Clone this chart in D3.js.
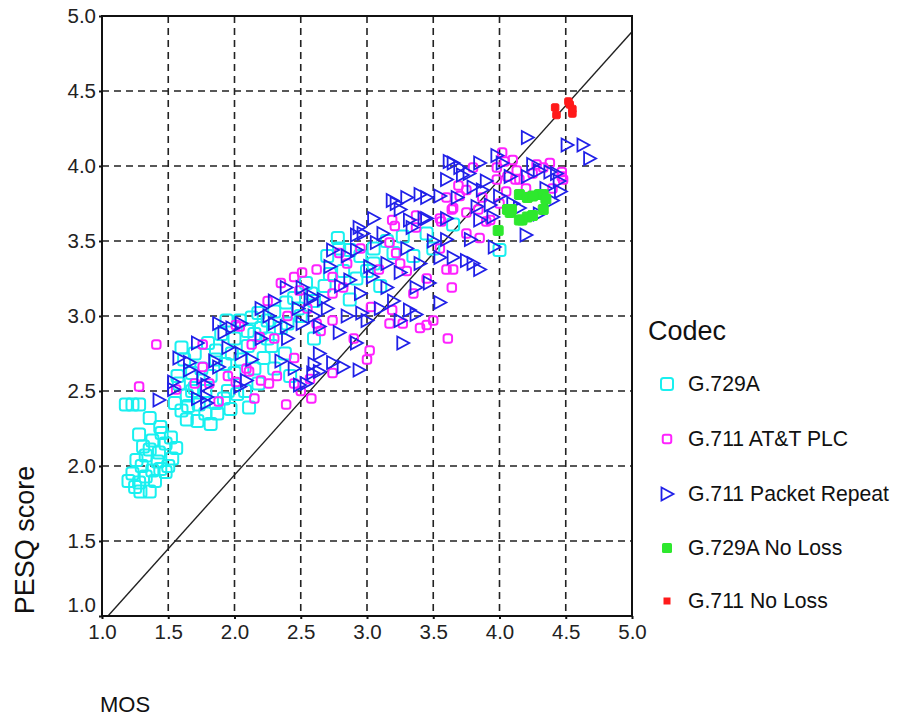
<!DOCTYPE html>
<html>
<head>
<meta charset="utf-8">
<script src="https://cdn.jsdelivr.net/npm/d3@7"></script>
<style>
  body { margin: 0; background: #fff; }
  svg { font-family: "Liberation Sans", Arial, sans-serif; }
</style>
</head>
<body>
<svg width="899" height="716"></svg>
<script>
// ticks on both axes
var ticks = [1.0, 1.5, 2.0, 2.5, 3.0, 3.5, 4.0, 4.5, 5.0];

// reference line (MOS, PESQ) end points
var refLine = [[1.045, 1.0], [5.0, 4.895]];

var codecs = ["G.729A", "G.711 AT&T PLC", "G.711 Packet Repeat", "G.729A No Loss", "G.711 No Loss"];

// [MOS, PESQ]
var g729a = [
  [1.18,2.41],[1.23,2.41],[1.28,2.41],[1.36,2.32],[1.44,2.26],[1.52,2.19],[1.28,2.21],[1.38,2.17],
  [1.31,2.13],[1.45,2.22],[1.48,2.15],[1.56,2.12],[1.43,2.09],[1.36,2.11],[1.26,2.04],[1.42,2.03],
  [1.53,2.05],[1.30,2.0],[1.38,1.97],[1.23,1.95],[1.48,1.96],[1.33,1.93],[1.2,1.9],[1.28,1.89],
  [1.29,1.83],[1.36,1.83],[1.25,1.86],[1.33,2.07],[1.4,1.9],[1.5,2.0],[1.44,1.98],
  [1.55,2.42],[1.6,2.37],[1.64,2.31],[1.72,2.3],[1.82,2.28],[1.87,2.35],[1.73,2.41],[1.86,2.42],
  [1.97,2.38],[2.11,2.39],[1.58,2.55],[1.64,2.47],[1.7,2.52],[1.78,2.5],[1.62,2.71],[1.6,2.79],
  [1.68,2.62],[1.75,2.65],[1.82,2.6],[1.86,2.77],[1.86,2.71],[1.98,2.75],[1.93,2.68],[2.0,2.62],
  [2.05,2.71],[2.1,2.8],[2.15,2.88],[2.2,2.92],[1.94,2.97],[2.04,2.97],[2.13,2.99],[2.25,2.97],
  [2.3,3.03],[2.39,3.09],[2.45,3.12],[2.54,3.22],[2.35,2.92],[2.28,2.8],[2.22,2.72],[2.3,2.65],
  [2.42,2.6],[2.0,2.85],[1.9,2.88],[2.08,2.5],[2.18,2.55],[1.95,2.5],[2.5,3.0],[2.6,3.1],
  [2.68,3.2],[2.72,3.28],
  [1.65,2.4],[1.78,2.35],[1.92,2.45],[2.02,2.48],[1.7,2.75],[1.8,2.82],[2.1,2.9],[2.25,2.85],
  [2.4,2.95],[2.18,3.02],[2.48,3.05],[2.58,3.15],[2.82,3.3],[2.7,3.4],[3.05,3.35],[3.2,3.42],
  [2.6,2.85],[2.38,2.75],[2.15,2.65],[1.68,2.5],[1.57,2.6],
  [2.78,3.52],[2.79,3.45],[2.87,3.44],[2.95,3.4],[3.05,3.45],[3.15,3.5],[3.27,3.53],[3.0,3.3],
  [2.87,3.11],[2.92,3.25],[3.1,3.2],[3.35,3.4],[3.5,3.45],[3.65,3.61],[4.0,3.44],[3.45,3.55]
];

var att = [
  [1.28,2.53],[1.41,2.81],[1.56,2.51],[1.76,2.81],[1.76,2.66],[1.81,2.55],[1.88,2.43],[2.01,2.56],
  [2.04,2.93],[2.01,2.94],[2.09,2.65],[2.13,2.81],[2.19,2.86],[2.11,2.63],[2.2,2.57],[2.26,2.55],
  [2.32,2.6],[2.39,2.41],[2.45,2.55],[2.5,2.5],[2.57,2.58],[2.62,2.95],[2.74,2.97],[2.74,2.62],
  [2.45,3.26],[2.51,3.29],[2.62,3.31],[2.49,3.17],[2.74,3.15],[2.74,3.26],[2.82,3.19],[2.79,3.42],
  [3.0,2.71],[3.02,2.77],[3.03,3.06],[3.17,2.95],[3.19,3.04],[3.27,2.95],[3.09,3.31],[3.17,3.49],
  [3.22,3.42],[3.19,3.64],[3.21,3.6],[3.37,3.67],[3.37,3.59],[3.56,3.63],[3.65,3.72],[3.6,3.79],
  [3.64,3.71],[3.75,3.84],[3.75,3.55],[3.9,3.63],[3.6,3.31],[3.65,3.31],[3.64,3.19],[3.5,2.97],
  [3.45,2.94],[3.4,2.92],[3.61,2.85],[3.8,3.99],[3.98,3.99],[4.04,4.03],[4.13,3.97],[3.98,3.91],
  [4.05,3.83],[3.87,3.79],[3.75,3.69],[3.84,3.71],[3.69,3.87],[4.33,3.99],[4.38,4.02],[4.48,3.91],
  [4.47,3.96],[4.12,3.91],[3.93,3.64],[4.02,4.09],[4.1,4.04],[4.06,3.93],[4.28,4.01],[4.47,3.93],
  [4.15,3.91],[3.85,3.52],[3.55,3.65],[3.3,3.3],[3.45,3.25],[2.65,2.9],[2.9,2.85],[2.45,2.72],
  [2.3,2.85],[1.95,2.6],[2.58,2.45],[3.35,3.15],[2.35,3.22],[2.25,3.1],[2.85,3.35],[4.2,3.85],
  [4.4,3.85],[2.4,3.0],[2.55,3.05],[2.95,3.45],[3.25,3.35],[3.55,3.45],[3.7,3.8],[4.0,3.75],
  [4.25,3.95],[2.15,2.45],[1.7,2.55]
];

var repeat = [
  [1.43,2.44],[1.54,2.56],[1.54,2.51],[1.58,2.72],[1.66,2.69],[1.66,2.64],[1.72,2.82],[1.76,2.59],
  [1.79,2.54],[1.79,2.46],[1.79,2.42],[1.88,2.95],[1.92,2.89],[1.95,2.79],[1.88,2.66],[2.04,2.53],
  [2.09,2.57],[2.13,2.71],[2.26,3.0],[2.39,2.93],[2.51,2.95],[2.64,2.93],[2.39,3.19],[2.51,3.19],
  [2.59,3.13],[2.67,3.11],[2.72,3.33],[2.74,3.44],[2.49,2.54],[2.64,2.63],[2.54,2.55],[2.59,2.62],
  [2.74,2.69],[2.82,2.66],[2.94,2.64],[2.64,2.75],[2.57,3.11],[2.79,2.89],[2.92,2.82],[2.96,3.02],
  [3.0,2.97],[3.25,2.97],[3.27,2.82],[3.32,3.04],[3.37,3.01],[3.55,3.09],[2.87,3.24],[3.02,3.33],
  [3.04,3.26],[3.15,3.19],[3.25,3.29],[3.37,3.19],[3.47,3.22],[3.55,3.39],[3.65,3.39],[3.75,3.37],
  [3.8,3.35],[3.85,3.31],[2.92,3.44],[2.94,3.59],[2.97,3.55],[3.12,3.55],[3.07,3.49],[2.92,3.54],
  [3.19,3.77],[3.3,3.79],[3.4,3.81],[3.45,3.79],[3.25,3.71],[3.32,3.64],[3.45,3.65],[3.34,3.59],
  [3.22,3.75],[3.43,3.65],[3.65,4.02],[3.6,3.91],[3.72,3.94],[3.8,3.86],[3.68,3.79],[3.62,4.03],
  [3.7,3.99],[3.77,3.95],[3.85,4.02],[3.98,4.07],[4.02,4.02],[4.21,4.19],[4.25,4.01],[4.3,3.97],
  [4.38,3.96],[4.43,3.95],[4.51,4.14],[4.63,4.14],[4.68,4.05],[4.46,3.83],[4.4,3.77],[4.2,3.54],
  [3.87,3.84],[3.93,3.74],[3.85,3.64],[3.78,3.51],[3.96,3.46],[3.6,3.51],[4.1,3.75],[4.15,3.72],
  [4.08,3.93],[4.21,3.93],[3.95,3.66],[3.83,3.73],[2.6,3.0],[2.2,2.85],[2.3,2.95],[2.05,2.75],
  [1.98,2.92],[1.72,2.45],[2.45,2.65],[2.6,2.68],[3.1,3.05],[3.2,3.1],[3.4,3.35],[3.5,3.5],
  [3.15,3.35],[2.85,3.0],[4.35,3.85],[4.45,3.9],[4.3,3.68],[2.95,3.15],[2.2,3.05],[2.3,3.1],
  [2.48,3.05],[2.7,3.05],[2.8,3.2],[2.85,3.4],[3.05,3.65],[3.3,3.45],[3.6,3.65],[3.9,3.9],
  [4.0,3.8],[3.55,3.8],[2.35,2.7],[2.05,2.95],[1.85,2.7],[2.4,2.85]
];

var g729aNoLoss = [
  [3.99,3.57],[4.06,3.71],[4.09,3.71],[4.15,3.81],[4.21,3.79],[4.3,3.81],[4.33,3.71],[4.17,3.64],
  [4.21,3.66],[4.25,3.67],[4.33,3.81],[4.08,3.69],[4.15,3.64],[4.25,3.8],[4.35,3.78]
];

var g711NoLoss = [[4.42,4.39],[4.43,4.34],[4.52,4.43],[4.53,4.41],[4.55,4.35],[4.55,4.38]];

var svg = d3.select("svg");
var x = d3.scaleLinear().domain([1, 5]).range([102, 632]);
var y = d3.scaleLinear().domain([1, 5]).range([616, 16]);
var g = svg.append("g");

// dashed grid
g.selectAll(".vgrid").data(ticks.slice(1, -1)).enter().append("line")
  .attr("x1", d => x(d)).attr("x2", d => x(d))
  .attr("y1", y(5)).attr("y2", y(1))
  .attr("stroke", "#222").attr("stroke-width", 1.6).attr("stroke-dasharray", "7,5");
g.selectAll(".hgrid").data(ticks.slice(1, -1)).enter().append("line")
  .attr("y1", d => y(d)).attr("y2", d => y(d))
  .attr("x1", x(1)).attr("x2", x(5))
  .attr("stroke", "#222").attr("stroke-width", 1.6).attr("stroke-dasharray", "7,5");

// diagonal
g.append("line")
  .attr("x1", x(refLine[0][0])).attr("y1", y(refLine[0][1]))
  .attr("x2", x(refLine[1][0])).attr("y2", y(refLine[1][1]))
  .attr("stroke", "#222").attr("stroke-width", 1.4);

function squares(data, size, color, filled, sw) {
  g.append("g").selectAll("rect").data(data).enter().append("rect")
    .attr("x", d => x(d[0]) - size / 2).attr("y", d => y(d[1]) - size / 2)
    .attr("width", size).attr("height", size)
    .attr("rx", filled ? 1.5 : 2.5)
    .attr("fill", filled ? color : "none")
    .attr("stroke", color).attr("stroke-width", sw);
}
function tri(cx, cy) {
  return "M" + (cx - 5.5) + "," + (cy - 6.5) + "L" + (cx + 6.5) + "," + cy + "L" + (cx - 5.5) + "," + (cy + 6.5) + "Z";
}

squares(g729a, 12, "#19f0f0", false, 2);
squares(att, 8.5, "#ff22ff", false, 2);
g.append("g").selectAll("path").data(repeat).enter().append("path")
  .attr("d", d => tri(x(d[0]), y(d[1])))
  .attr("fill", "none").attr("stroke", "#2020e8").attr("stroke-width", 1.8);
squares(g729aNoLoss, 10, "#2ee82e", true, 1);
squares(g711NoLoss, 7.5, "#ff1a1a", true, 1);

// frame and axes
g.append("rect").attr("x", x(1)).attr("y", y(5))
  .attr("width", x(5) - x(1)).attr("height", y(1) - y(5))
  .attr("fill", "none").attr("stroke", "#111").attr("stroke-width", 2);

var xAxis = g.append("g").attr("transform", "translate(0," + y(1) + ")")
  .call(d3.axisBottom(x).tickValues(ticks).tickFormat(d3.format(".1f")).tickSize(3).tickPadding(5));
var yAxis = g.append("g").attr("transform", "translate(" + x(1) + ",0)")
  .call(d3.axisLeft(y).tickValues(ticks).tickFormat(d3.format(".1f")).tickSize(3).tickPadding(3));
[xAxis, yAxis].forEach(function(a) {
  a.select(".domain").remove();
  a.selectAll("line").attr("stroke", "#111").attr("stroke-width", 2);
  a.selectAll("text").attr("font-size", 20.5).attr("fill", "#222")
    .attr("font-family", "'Liberation Sans', Arial, sans-serif");
});
yAxis.selectAll("text").filter(d => d === 1).attr("dy", "-0.2em");

// axis titles
svg.append("text").attr("x", 100).attr("y", 712).attr("font-size", 22).attr("fill", "#111").text("MOS");
svg.append("text").attr("transform", "translate(34,540) rotate(-90)")
  .attr("text-anchor", "middle").attr("font-size", 27).attr("fill", "#111").text("PESQ score");

// legend
var legend = svg.append("g");
legend.append("text").attr("x", 648).attr("y", 340).attr("font-size", 27).attr("fill", "#111").text("Codec");
var lx = 667, ly = [384, 439, 494, 548, 601];
legend.append("rect").attr("x", lx - 6).attr("y", ly[0] - 6).attr("width", 12).attr("height", 12)
  .attr("rx", 2.5).attr("fill", "none").attr("stroke", "#19f0f0").attr("stroke-width", 2);
legend.append("rect").attr("x", lx - 4.25).attr("y", ly[1] - 4.25).attr("width", 8.5).attr("height", 8.5)
  .attr("rx", 2).attr("fill", "none").attr("stroke", "#ff22ff").attr("stroke-width", 2);
legend.append("path").attr("d", tri(lx, ly[2])).attr("fill", "none")
  .attr("stroke", "#2020e8").attr("stroke-width", 1.8);
legend.append("rect").attr("x", lx - 5).attr("y", ly[3] - 5).attr("width", 10).attr("height", 10)
  .attr("rx", 1.5).attr("fill", "#2ee82e");
legend.append("rect").attr("x", lx - 3.5).attr("y", ly[4] - 3.5).attr("width", 7).attr("height", 7)
  .attr("fill", "#ff1a1a");
legend.selectAll(".lab").data(codecs).enter().append("text")
  .attr("x", 688).attr("y", (d, i) => ly[i] + 7)
  .attr("font-size", 21.2).attr("fill", "#111").text(d => d);
</script>
</body>
</html>
